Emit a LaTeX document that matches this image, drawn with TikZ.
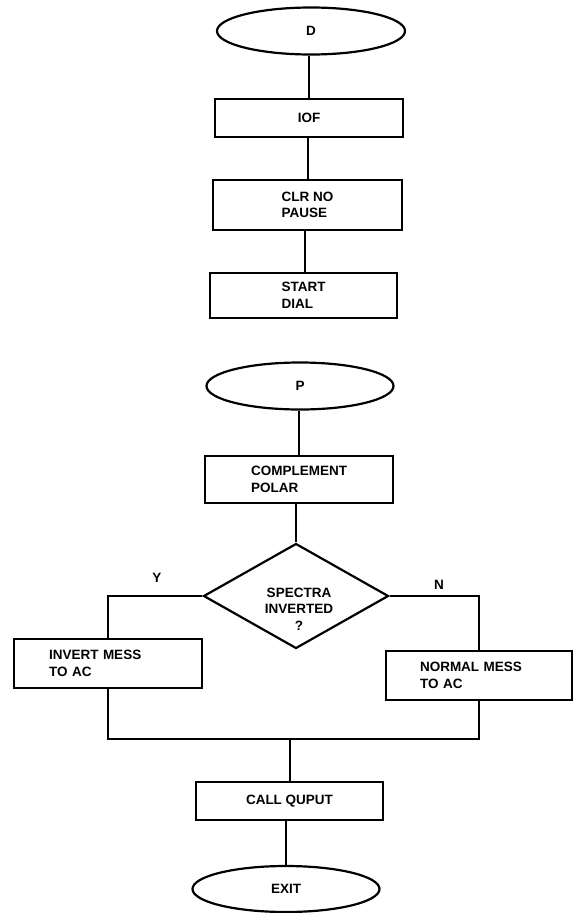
\documentclass[tikz,border=0pt]{standalone}
\usepackage{fontspec}
\setmainfont{Liberation Sans}
\usetikzlibrary{shapes.geometric}
\begin{document}
\begin{tikzpicture}[x=1pt,y=-1pt,
  every node/.style={font=\fontsize{13.5}{16.5}\selectfont\bfseries},
  term/.style={ellipse,draw,line width=2.2pt,inner sep=0pt,minimum width=188pt,minimum height=47pt},
  proc/.style={rectangle,draw,line width=2.2pt,inner sep=2pt,align=left},
  decis/.style={diamond,draw,line width=2.2pt,inner sep=0pt,minimum width=185pt,minimum height=105pt,shape aspect=1.76},
  conn/.style={line width=1.4pt},
  lbl/.style={inner sep=0pt}
]
\useasboundingbox (0,0) rectangle (576,913);
% top chart
\node[term] (D) at (311,31) {D};
\node[proc,minimum width=188pt,minimum height=38pt] (IOF) at (309,118) {IOF};
\node[proc,minimum width=189pt,minimum height=50pt] (CLR) at (307.5,205) {CLR NO\\PAUSE};
\node[proc,minimum width=187pt,minimum height=45pt] (START) at (303.5,295.5) {START\\DIAL};
\draw[conn] (D.south -| IOF.north) -- (IOF.north);
\draw[conn] (IOF.south -| 308,0) -- (CLR.north -| 308,0);
\draw[conn] (CLR.south -| 305,0) -- (START.north -| 305,0);
% second chart
\node[term,minimum width=187pt] (P) at (300,386) {P};
\node[proc,minimum width=188pt,minimum height=47pt] (COMP) at (299,479.5) {COMPLEMENT\\POLAR};
\node[decis] (DIA) at (296,596) {};
\node[lbl,align=center] (DTXT) at (299,609) {SPECTRA\\INVERTED\\?};
\node[proc,minimum width=188pt,minimum height=49pt,text width=118pt] (INV) at (108,663.5) {INVERT MESS\\TO AC};
\node[proc,minimum width=186pt,minimum height=49pt,text width=118pt] (NORM) at (479,675.5) {NORMAL MESS\\TO AC};
\node[proc,minimum width=187pt,minimum height=38pt] (CALL) at (289.5,801) {CALL QUPUT};
\node[term,minimum width=187pt,minimum height=46pt] (EXIT) at (286,889) {EXIT};
\node[lbl] (Y) at (157,578) {Y};
\node[lbl] (N) at (439,585) {N};
\coordinate (M) at (290,739);
\draw[conn] (P.south -| 299,0) -- (COMP.north -| 299,0);
\draw[conn] (COMP.south -| DIA.north) -- (DIA.north);
\draw[conn] (DIA.west) -| (INV.north);
\draw[conn] (DIA.east) -| (NORM.north);
\draw[conn] (INV.south) |- (M);
\draw[conn] (NORM.south) |- (M);
\draw[conn] (M) -- (CALL.north -| M);
\draw[conn] (CALL.south -| EXIT.north) -- (EXIT.north);
\end{tikzpicture}
\end{document}
